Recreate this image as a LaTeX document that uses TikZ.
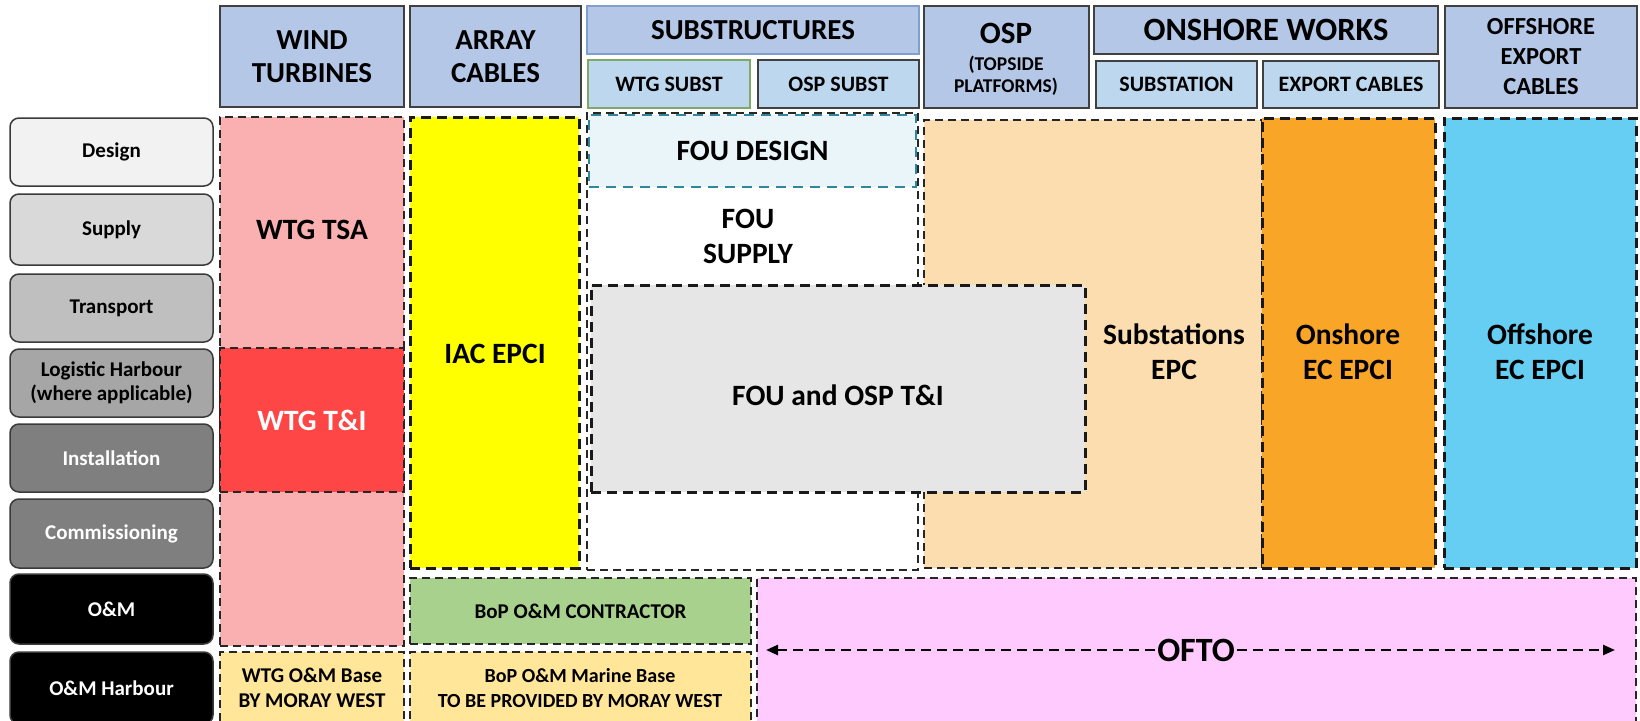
\documentclass[tikz,border=0pt]{standalone}
\usepackage{fontspec}
\setmainfont{Carlito}
\usetikzlibrary{arrows.meta}
\definecolor{hdrblue}{HTML}{B4C7E7}
\definecolor{subblue}{HTML}{BDD7EE}
\definecolor{hdrborder}{HTML}{404040}
\definecolor{subsborder}{HTML}{7F9FCF}
\definecolor{wtgborder}{HTML}{82A865}
\definecolor{rowborder}{HTML}{3A3A3A}
\definecolor{cDesign}{HTML}{F2F2F2}
\definecolor{cSupply}{HTML}{D9D9D9}
\definecolor{cTransport}{HTML}{BFBFBF}
\definecolor{cLogistic}{HTML}{A6A6A6}
\definecolor{cInstall}{HTML}{7F7F7F}
\definecolor{cPink}{HTML}{FAB0B0}
\definecolor{cRed}{HTML}{FF4646}
\definecolor{cYellow}{HTML}{FFFF00}
\definecolor{cTeal}{HTML}{31869B}
\definecolor{cFouD}{HTML}{EAF5FA}
\definecolor{cGray}{HTML}{E6E6E6}
\definecolor{cLOrange}{HTML}{FCDDB0}
\definecolor{cOrange}{HTML}{F9A527}
\definecolor{cBlue}{HTML}{66CEF3}
\definecolor{cGreen}{HTML}{A9D18E}
\definecolor{cBeige}{HTML}{FFE699}
\definecolor{cOfto}{HTML}{FFCBFF}
\tikzset{
  span/.style args={#1/#2/#3/#4}{at={({(#1+#3)/2},{(#2+#4)/2})}, minimum width={(#3)-(#1)}, minimum height={(#4)-(#2)}},
  rowlab/.style={draw=rowborder, line width=1.5pt, rounded corners=9pt, inner sep=0pt, align=center, font=\bfseries\fontsize{21}{24}\selectfont},
  hdr/.style={draw=hdrborder, line width=1.5pt, fill=hdrblue, inner sep=0pt, align=center, font=\bfseries\fontsize{29}{33}\selectfont},
  subhdr/.style={hdr, fill=subblue, font=\bfseries\fontsize{22}{24}\selectfont},
  area/.style={draw=black!85, dash pattern=on 8pt off 5pt, line width=2.2pt, inner sep=0pt, align=center},
  thickarea/.style={area, draw=black!90, line width=3pt, dash pattern=on 10pt off 6pt},
  bodytext/.style={font=\bfseries\fontsize{29.5}{35}\selectfont, align=center},
  smalltext/.style={font=\bfseries\fontsize{21}{25}\selectfont, align=center},
  dasharrow/.style={draw=black, line width=2.4pt, dash pattern=on 10pt off 6pt, -{Triangle[length=12pt,width=10pt]}}
}
\begin{document}
\begin{tikzpicture}[x=1pt,y=-1pt]
\clip (0,0) rectangle (1640,720);
\fill[white] (0,0) rectangle (1640,720);

% ---------- headers ----------
\node[hdr, span=220/6/404/107] (hWT) {WIND\\TURBINES};
\node[hdr, span=410/6/581/107] (hAC) {ARRAY\\CABLES};
\node[hdr, draw=subsborder, span=587/6/919/54] (hSUB) {SUBSTRUCTURES};
\node[subhdr, draw=wtgborder, span=588/60/750/108] (hWTGS) {WTG SUBST};
\node[subhdr, span=758/60/919/108] (hOSPS) {OSP SUBST};
\node[hdr, span=924/6/1089/108] (hOSP) {};
\node[font=\bfseries\fontsize{31}{34}\selectfont] (hOSPt) at (1006,33) {OSP};
\node[font=\bfseries\fontsize{19.5}{22}\selectfont, align=center] (hOSPs) at (1006,76) {(TOPSIDE\\PLATFORMS)};
\node[hdr, font=\bfseries\fontsize{32.5}{34}\selectfont, span=1094/6/1438/54] (hON) {ONSHORE WORKS};
\node[subhdr, span=1096/61/1257/108] (hSS) {SUBSTATION};
\node[subhdr, span=1263/61/1439/108] (hEC) {EXPORT CABLES};
\node[hdr, font=\bfseries\fontsize{24.5}{30}\selectfont, span=1445/6/1637/108] (hOEC) {OFFSHORE\\EXPORT\\CABLES};

% ---------- row labels ----------
\node[rowlab, fill=cDesign, span=10/118/213/186] (rDesign) {Design};
\node[rowlab, fill=cSupply, span=10/194/213/265] (rSupply) {Supply};
\node[rowlab, fill=cTransport, span=10/274/213/342] (rTransport) {Transport};
\node[rowlab, fill=cLogistic, span=10/349/213/417] (rLogistic) {Logistic Harbour\\(where applicable)};
\node[rowlab, fill=cInstall, text=white, span=10/424/213/492] (rInstall) {Installation};
\node[rowlab, fill=cInstall, text=white, span=10/499/213/568] (rComm) {Commissioning};
\node[rowlab, fill=black, text=white, span=10/574/213/644] (rOM) {O\&M};
\node[rowlab, fill=black, text=white, span=10/652/213/724] (rOMH) {O\&M Harbour};

% ---------- wind turbines ----------
\node[area, fill=cPink, span=220/117/404/646] (bWTSA) {};
\node[bodytext] (tWTSA) at (312,230) {WTG TSA};
\node[area, fill=cRed, span=220/348/404/492, bodytext, text=white] (bWTI) {WTG T\&I};

% ---------- array cables ----------
\node[thickarea, fill=cYellow, span=410/117/579/568] (bIAC) {};
\node[bodytext] (tIAC) at (495,354) {IAC EPCI};

% ---------- substructures ----------
\node[area, fill=white, span=587/113/918/570] (bFOU) {};
\node[area, draw=cTeal, fill=cFouD, line width=2.6pt, dash pattern=on 10pt off 7pt, span=589/115/916/187, bodytext] (bFOUD) {FOU DESIGN};
\node[bodytext] (tFOUS) at (748,236) {FOU\\SUPPLY};

% ---------- OSP / onshore / offshore ----------
\node[area, fill=cLOrange, span=924/120/1262/568] (bSEPC) {};
\node[bodytext] (tSEPC) at (1174,352) {Substations\\EPC};
\node[thickarea, fill=cOrange, span=1262/118/1435/568] (bONS) {};
\node[bodytext] (tONS) at (1348,352) {Onshore\\EC EPCI};
\node[thickarea, fill=cBlue, span=1444/118/1636/568] (bOFF) {};
\node[bodytext] (tOFF) at (1540,352) {Offshore\\EC EPCI};

\node[thickarea, fill=cGray, span=591/285/1085/492] (bTI) {};
\node[bodytext] (tTI) at (838,395) {FOU and OSP T\&I};

% ---------- O&M ----------
\node[area, fill=cGreen, span=410/578/751/644, smalltext] (bBOPC) {BoP O\&M CONTRACTOR};
\node[area, fill=cBeige, span=220/652/404/730] (bWOM) {};
\node[smalltext] (tWOM) at (312,688) {WTG O\&M Base\\BY MORAY WEST};
\node[area, fill=cBeige, span=410/652/751/730] (bBOPM) {};
\node[font=\bfseries\fontsize{20}{25}\selectfont, align=center] (tBOPM) at (580,688) {BoP O\&M Marine Base\\TO BE PROVIDED BY MORAY WEST};
\node[area, fill=cOfto, span=757/578/1636/730] (bOFTO) {};
\node[font=\bfseries\fontsize{34}{36}\selectfont, inner sep=2pt] (tOFTO) at (1196,650) {OFTO};
\coordinate (ofL) at (766,650);
\coordinate (ofR) at (1615,650);
\draw[dasharrow] (tOFTO.west) -- (ofL);
\draw[dasharrow] (tOFTO.east) -- (ofR);
\end{tikzpicture}
\end{document}
